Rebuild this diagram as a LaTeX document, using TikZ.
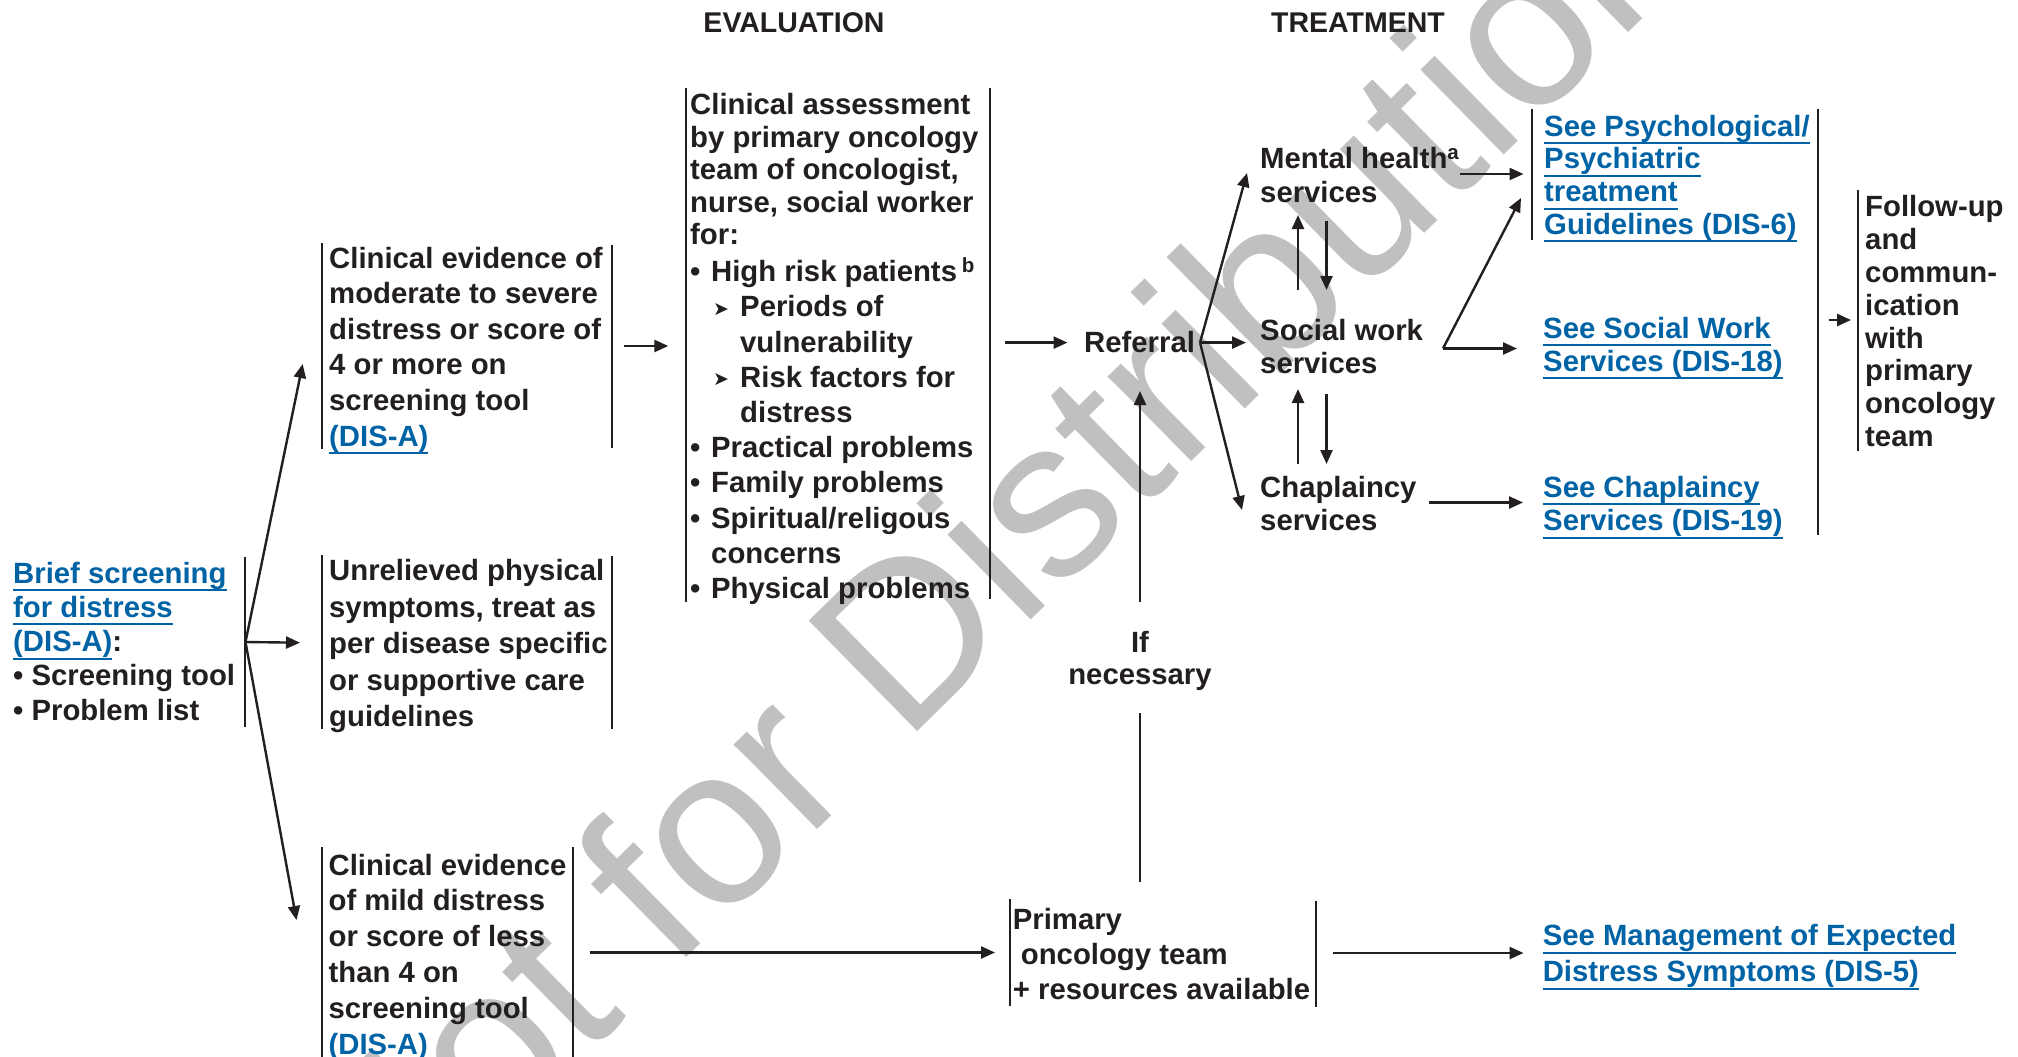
\documentclass[tikz,border=0pt]{standalone}
\usepackage{fontspec}
\setmainfont{Liberation Sans}
\newfontfamily\symfont{DejaVu Sans}
\usetikzlibrary{arrows.meta}
\definecolor{ink}{HTML}{231F20}
\definecolor{linkblue}{HTML}{0063A6}
\definecolor{wm}{HTML}{C0C0C0}
\newcommand{\lnk}[1]{{\color{linkblue}\setbox0\hbox{#1}\rlap{\rule[-8pt]{\wd0}{2pt}}\box0}}
\newcommand{\blt}{\makebox[21pt][l]{\textbullet}}
\newcommand{\sbl}{\hspace*{23pt}\makebox[27pt][l]{\raisebox{1.5pt}{\symfont\fontsize{19}{19}\selectfont ➤}}}
\tikzset{
  bar/.style={line width=2pt, draw=ink},
  arr/.style={line width=2.4pt, draw=ink, -{Triangle[length=14pt,width=12pt]}},
  ln/.style={line width=2.4pt, draw=ink},
  txt/.style={anchor=base west, inner sep=0pt, align=left, text=ink, font=\fontsize{29.3}{#1}\selectfont\bfseries},
  txt/.default=35.6,
  hdr/.style={anchor=base, inner sep=0pt, text=ink, font=\fontsize{28.5}{34}\selectfont\bfseries},
}
\begin{document}
\begin{tikzpicture}[x=1pt,y=-1pt]
\fill[white] (0,0) rectangle (2018,1057);
\useasboundingbox (0,0) rectangle (2018,1057);
% watermark
\node[rotate=44.5, anchor=base, text=wm, inner sep=0pt, font=\fontsize{225}{225}\selectfont] (wmk) at (1043,608) {Not for Distribution};

% headers (anchor = baseline of last line)
\node[hdr] (heval) at (794,32.5) {EVALUATION};
\node[hdr] (htreat) at (1358,32.5) {TREATMENT};

% brief screening
\node[txt=34.3] (brief) at (13,720.2) {\lnk{Brief screening}\\\lnk{for distress}\\\lnk{(DIS-A)}:\\\textbullet\ Screening tool\\\textbullet\ Problem list};
\draw[bar] (245,557) -- (245,727);

% moderate
\node[txt=35.6] (mod) at (329,446) {Clinical evidence of\\moderate to severe\\distress or score of\\4 or more on\\screening tool\\\lnk{(DIS-A)}};
\draw[bar] (322.3,243) -- (322.3,449) (611.6,245) -- (611.6,448);

% unrelieved
\node[txt=36.5] (unr) at (329,726.5) {Unrelieved physical\\symptoms, treat as\\per disease specific\\or supportive care\\guidelines};
\draw[bar] (322.3,555) -- (322.3,729) (611.6,556) -- (611.6,729);

% mild
\node[txt=35.8] (mild) at (328.4,1054) {Clinical evidence\\of mild distress\\or score of less\\than 4 on\\screening tool\\\lnk{(DIS-A)}};
\draw[bar] (322,847) -- (322,1057) (572.7,847) -- (572.7,1057);

% clinical assessment
\node[txt=32.5] (clin) at (690,598.5) {Clinical assessment\\by primary oncology\\team of oncologist,\\nurse, social worker\\for:\\[4.7pt]
\blt High risk patients\,\textsuperscript{b}\\[2.7pt]
\sbl Periods of\\[2.7pt]
\hspace*{50pt}vulnerability\\[2.7pt]
\sbl Risk factors for\\[2.7pt]
\hspace*{50pt}distress\\[2.7pt]
\blt Practical problems\\[2.7pt]
\blt Family problems\\[2.7pt]
\blt Spiritual/religous\\[2.7pt]
\hspace*{21pt}concerns\\[2.7pt]
\blt Physical problems};
\draw[bar] (686,88) -- (686,602) (990,88) -- (990,599);

% referral and services
\node[txt] (ref) at (1084,352.6) {Referral};
\node[txt=33.5] (mh) at (1260,202) {Mental health\textsuperscript{a}\\services};
\node[txt=33.5] (sw) at (1260,373.5) {Social work\\services};
\node[txt=33.5] (ch) at (1260,530.5) {Chaplaincy\\services};

% right column
\node[txt=32.8] (psy) at (1544,234.4) {\lnk{See Psychological/}\\\lnk{Psychiatric}\\\lnk{treatment}\\\lnk{Guidelines (DIS-6)}};
\draw[bar] (1532,109) -- (1532,239.5);
\node[txt=33] (sws) at (1543,371) {\lnk{See Social Work}\\\lnk{Services (DIS-18)}};
\node[txt=33.5] (chs) at (1543,530.5) {\lnk{See Chaplaincy}\\\lnk{Services (DIS-19)}};
\draw[bar] (1818,109) -- (1818,535);
\node[txt=32.86] (fu) at (1865,446.7) {Follow-up\\and\\commun-\\ication\\with\\primary\\oncology\\team};
\draw[bar] (1858,190) -- (1858,451);

% if necessary
\node[anchor=base, inner sep=0pt, align=center, text=ink, font=\fontsize{29.3}{32.7}\selectfont\bfseries] (ifn) at (1140,684.7) {If\\necessary};

% primary oncology team
\node[txt=35] (prim) at (1012.7,999) {Primary\\\hspace*{8pt}oncology team\\+ resources available};
\draw[bar] (1009.5,899) -- (1009.5,1006) (1315.5,901) -- (1315.5,1006.5);
\node[txt=36] (mgmt) at (1542.6,981.5) {\lnk{See Management of Expected}\\\lnk{Distress Symptoms (DIS-5)}};

% coordinates for connectors
\coordinate (bO) at (245.5,642);
\coordinate (modIn) at (302.7,364);
\coordinate (unrIn) at (300,642.7);
\coordinate (mildIn) at (296.5,920);
\coordinate (modOut) at (623.7,346);
\coordinate (clinIn) at (668.3,346);
\coordinate (clinOut) at (1005,342.6);
\coordinate (refIn) at (1067.5,342.6);
\coordinate (refOut) at (1200,342.6);
\coordinate (mhIn) at (1247,173);
\coordinate (swIn) at (1246,342.6);
\coordinate (chIn) at (1242,510);
\coordinate (mhS1) at (1298,290);
\coordinate (mhS2) at (1298,215);
\coordinate (swN1) at (1326.5,221);
\coordinate (swN2) at (1326.5,290);
\coordinate (chS1) at (1298,464);
\coordinate (chS2) at (1298,389);
\coordinate (swS1) at (1326.5,394);
\coordinate (swS2) at (1326.5,464);
\coordinate (mhOut) at (1460,174);
\coordinate (psyIn) at (1523.5,174);
\coordinate (swOut) at (1443,348.5);
\coordinate (psyIn2) at (1521,198);
\coordinate (swsIn) at (1517,348.5);
\coordinate (chOut) at (1428.5,502.5);
\coordinate (chsIn) at (1523,502.5);
\coordinate (colOut) at (1828.6,320);
\coordinate (fuIn) at (1851,320);
\coordinate (ifTop) at (1140,602);
\coordinate (refBelow) at (1140,391);
\coordinate (ifBot) at (1140,713);
\coordinate (primTop) at (1140,881.7);
\coordinate (mildOut) at (590,952.5);
\coordinate (primIn) at (995,952.5);
\coordinate (primOut) at (1333,953);
\coordinate (mgmtIn) at (1523.5,953);

% connectors
\draw[arr] (bO) -- (modIn);
\draw[arr] (bO) -- (unrIn);
\draw[arr] (bO) -- (mildIn);
\draw[arr] (modOut) -- (clinIn);
\draw[arr] (clinOut) -- (refIn);
\draw[arr] (refOut) -- (mhIn);
\draw[arr] (refOut) -- (swIn);
\draw[arr] (refOut) -- (chIn);
\draw[arr] (mhS1) -- (mhS2);
\draw[arr] (swN1) -- (swN2);
\draw[arr] (chS1) -- (chS2);
\draw[arr] (swS1) -- (swS2);
\draw[arr] (mhOut) -- (psyIn);
\draw[arr] (swOut) -- (psyIn2);
\draw[arr] (swOut) -- (swsIn);
\draw[arr] (chOut) -- (chsIn);
\draw[arr] (colOut) -- (fuIn);
\draw[arr] (ifTop) -- (refBelow);
\draw[ln] (ifBot) -- (primTop);
\draw[arr] (mildOut) -- (primIn);
\draw[arr] (primOut) -- (mgmtIn);
\end{tikzpicture}
\end{document}
